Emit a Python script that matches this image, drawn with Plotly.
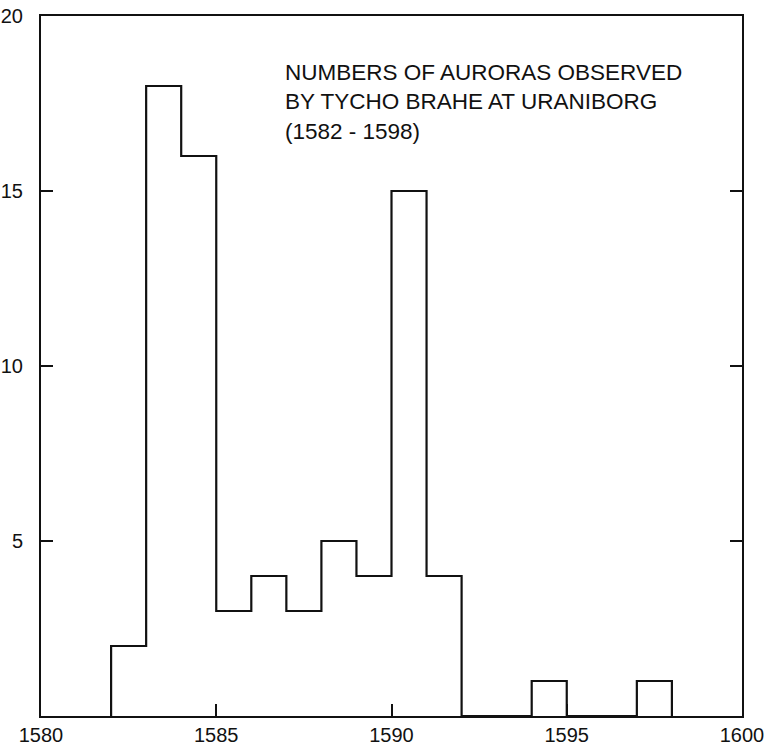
import plotly.graph_objects as go

# Data: numbers of auroras per year (bin start year -> count)
years = [1582, 1583, 1584, 1585, 1586, 1587, 1588, 1589, 1590, 1591,
         1592, 1593, 1594, 1595, 1596, 1597]
counts = [2, 18, 16, 3, 4, 3, 5, 4, 15, 4, 0, 0, 1, 0, 0, 1]

x_ticks = [1580, 1585, 1590, 1595, 1600]
x_ticktext = ["1580", "1585", "1590", "1595", "1600"]
y_ticks = [5, 10, 15, 20]
y_ticktext = ["5", "10", "15", "20"]

title_lines = ["NUMBERS OF AURORAS OBSERVED",
               "BY TYCHO BRAHE AT URANIBORG",
               "(1582 - 1598)"]

# step outline built from the bins
step_x = [years[0]] + years + [years[-1] + 1]
step_y = [0] + counts + [0]

fig = go.Figure()
fig.add_trace(go.Scatter(
    x=step_x, y=step_y, mode="lines",
    line=dict(color="#111111", width=2.2, shape="hv"),
    hoverinfo="skip", showlegend=False,
))

font = dict(family="Liberation Sans, Arial, sans-serif", size=20, color="#111111")

fig.update_layout(
    width=767, height=754,
    margin=dict(l=41, r=25, t=16, b=38, pad=0),
    paper_bgcolor="white", plot_bgcolor="white",
    font=font,
    showlegend=False,
    xaxis=dict(
        range=[1580, 1600], tickmode="array", tickvals=x_ticks, ticktext=x_ticktext,
        ticks="inside", ticklen=12, tickwidth=1.5, tickcolor="#111111",
        showline=True, linecolor="#111111", linewidth=2, mirror=True,
        showgrid=False, zeroline=False, ticklabelstandoff=0, automargin=False,
        tickfont=font,
    ),
    yaxis=dict(
        range=[0, 20], tickmode="array", tickvals=y_ticks, ticktext=y_ticktext,
        ticks="inside", ticklen=12, tickwidth=1.5, tickcolor="#111111",
        showline=True, linecolor="#111111", linewidth=2, mirror="allticks",
        showgrid=False, zeroline=False, ticklabelstandoff=12, automargin=False,
        tickfont=font,
    ),
    annotations=[dict(
        text="<br>".join(title_lines),
        xref="paper", yref="paper", x=0.345, y=0.94,
        xanchor="left", yanchor="top", align="left", showarrow=False,
        font=dict(family="Liberation Sans, Arial, sans-serif", size=22.5, color="#111111"),
    )],
)

fig.write_html("out.html", config={"displayModeBar": False},
               post_script="document.body.style.margin='0';")
